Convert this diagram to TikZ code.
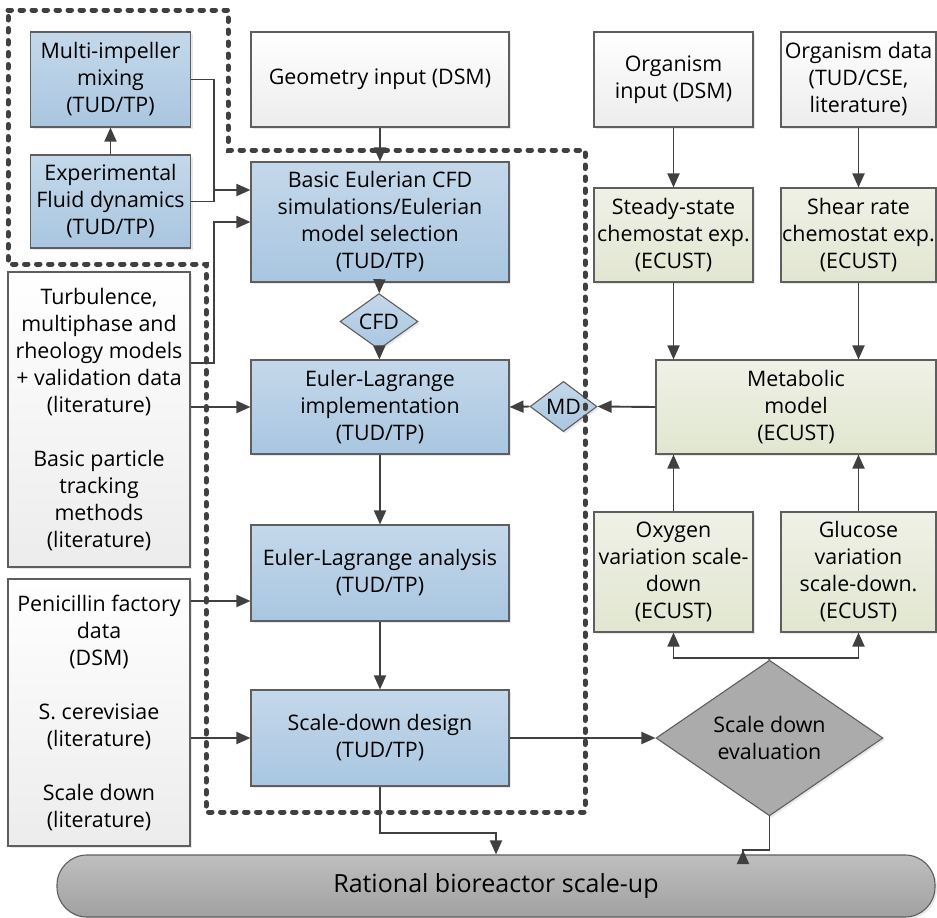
\documentclass[tikz,border=0pt]{standalone}
\usepackage{fontspec}
\setmainfont{Open Sans}
\usetikzlibrary{arrows.meta,positioning,shapes.geometric,shadows,calc}

\definecolor{bluetop}{HTML}{C4D8EA}
\definecolor{bluebot}{HTML}{A9C6E0}
\definecolor{greytop}{HTML}{FFFFFF}
\definecolor{greybot}{HTML}{ECECEC}
\definecolor{greentop}{HTML}{EFF1E6}
\definecolor{greenbot}{HTML}{E1E6D0}
\definecolor{evalgrey}{HTML}{ABABAB}
\definecolor{raticol}{HTML}{B3B3B3}
\definecolor{lncol}{HTML}{404040}
\definecolor{edgecol}{HTML}{5E5E5E}

\begin{document}
\begin{tikzpicture}[x=1pt, y=-1pt,
    font=\fontsize{21.4}{27}\selectfont,
    box/.style={draw=edgecol, line width=1.1pt, align=center, inner sep=1pt,
      drop shadow={shadow xshift=2pt, shadow yshift=-2pt, opacity=0.18}},
    bluebox/.style={box, top color=bluetop, bottom color=bluebot},
    greybox/.style={box, top color=greytop, bottom color=greybot},
    greenbox/.style={box, top color=greentop, bottom color=greenbot},
    dia/.style={box, diamond, inner sep=0pt},
    wire/.style={draw=lncol, line width=1.9pt},
    arr/.style={wire, -{Triangle[length=14pt,width=12pt]}},
    group/.style={draw=lncol, line width=5pt, line cap=round,
      dash pattern=on 3.5pt off 8.5pt}]
  \useasboundingbox (0,0) rectangle (937,918);

  % left inputs
  \node[bluebox, minimum width=160pt, minimum height=95pt] (multi) at (110.5,79.5)
    {Multi-impeller\\mixing\\(TUD/TP)};
  \node[bluebox, minimum width=160pt, minimum height=93pt] (expfd) at (110.5,201.5)
    {Experimental\\Fluid dynamics\\(TUD/TP)};
  \node[greybox, minimum width=182pt, minimum height=295pt] (turb) at (99,419.5)
    {Turbulence,\\multiphase and\\rheology models\\+ validation data\\(literature)\\[27pt]Basic particle\\tracking\\methods\\(literature)};
  \node[greybox, minimum width=182pt, minimum height=267pt] (penic) at (99,712.5)
    {Penicillin factory\\data\\(DSM)\\[27pt]S. cerevisiae\\(literature)\\[27pt]Scale down\\(literature)};

  % CFD chain
  \node[greybox, minimum width=258pt, minimum height=95pt] (geom) at (380,79.5)
    {Geometry input (DSM)};
  \node[bluebox, minimum width=258pt, minimum height=120pt] (basic) at (380,222)
    {Basic Eulerian CFD\\simulations/Eulerian\\model selection\\(TUD/TP)};
  \node[dia, top color=bluetop, bottom color=bluebot, minimum width=78pt, minimum height=47pt] (cfd) at (379,321.5) {CFD};
  \node[bluebox, minimum width=258pt, minimum height=94pt] (elimpl) at (380,407)
    {Euler-Lagrange\\implementation\\(TUD/TP)};
  \node[bluebox, minimum width=258pt, minimum height=96pt] (elana) at (380,573)
    {Euler-Lagrange analysis\\(TUD/TP)};
  \node[bluebox, minimum width=258pt, minimum height=96pt] (sdd) at (380,738)
    {Scale-down design\\(TUD/TP)};

  % organism side
  \node[greybox, minimum width=159pt, minimum height=95pt] (orgin) at (673.5,79.5)
    {Organism\\input (DSM)};
  \node[greybox, minimum width=155pt, minimum height=95pt] (orgdat) at (858.5,79.5)
    {Organism data\\(TUD/CSE,\\literature)};
  \node[greenbox, minimum width=159pt, minimum height=94pt] (steady) at (673.5,235)
    {Steady-state\\chemostat exp.\\(ECUST)};
  \node[greenbox, minimum width=155pt, minimum height=94pt] (shear) at (858.5,235)
    {Shear rate\\chemostat exp.\\(ECUST)};
  \node[greenbox, minimum width=280pt, minimum height=94pt] (metab) at (796,407)
    {Metabolic\\model\\(ECUST)};
  \node[dia, top color=bluetop, bottom color=bluebot, minimum width=67pt, minimum height=47pt] (md) at (563.5,406.5) {MD};
  \node[greenbox, minimum width=159pt, minimum height=120pt] (oxy) at (673.5,572)
    {Oxygen\\variation scale-\\down\\(ECUST)};
  \node[greenbox, minimum width=155pt, minimum height=120pt] (gluc) at (858.5,572)
    {Glucose\\variation\\scale-down.\\(ECUST)};
  \node[dia, fill=evalgrey, minimum width=227pt, minimum height=92pt] (sde) at (769.5,738)
    {Scale down\\evaluation};

  % result
  \node[box, top color=raticol!85!white, bottom color=raticol!90!black, rounded corners=30pt,
    minimum width=878pt, minimum height=62pt, font=\fontsize{25}{30}\selectfont] (rational) at (496,886)
    {Rational bioreactor scale-up};

  % connectors
  \coordinate (jmix) at (214,190);
  \coordinate (split) at (769,658);
  \coordinate (sdeout) at (743,850);
  \draw[arr] (expfd) -- (multi);
  \draw[wire] (multi.east) -| (jmix |- expfd.east) -- (expfd.east);
  \draw[arr] (jmix) -- (jmix -| basic.west);
  \draw[arr] (turb.east |- 0,363) -| (214,222) -- (basic.west |- 0,222);
  \draw[arr] (turb.east |- elimpl.west) -- (elimpl.west);
  \draw[arr] (penic.east |- 0,601) -- (elana.west |- 0,601);
  \draw[arr] (penic.east |- sdd.west) -- (sdd.west);
  \draw[arr] (geom) -- (basic);
  \draw[arr] (basic) -- (cfd);
  \draw[arr] (cfd) -- (elimpl);
  \draw[arr] (elimpl) -- (elana);
  \draw[arr] (elana) -- (sdd);
  \draw[arr] (sdd) -- (sde);
  \draw[arr] (sdd.south) -- ++(0,46) -| (rational.north);
  \draw[arr] (sde.south) -- ++(0,34) -| (sdeout);
  \draw[wire] (sde.north) -- (split);
  \draw[arr] (split) -| (oxy.south);
  \draw[arr] (split) -| (gluc.south);
  \draw[arr] (oxy) -- (oxy |- metab.south);
  \draw[arr] (gluc) -- (gluc |- metab.south);
  \draw[arr] (orgin) -- (steady);
  \draw[arr] (orgdat) -- (shear);
  \draw[arr] (steady) -- (steady |- metab.north);
  \draw[arr] (shear) -- (shear |- metab.north);
  \draw[arr] (metab.west) -- (md.east);
  \draw[arr] (md.west) -- (elimpl.east);

  % project boundary
  \draw[group] (8,10) -- (228,10) -- (228,150) -- (585,150) -- (585,812)
    -- (206,812) -- (206,264) -- (8,264) -- cycle;
\end{tikzpicture}
\end{document}
